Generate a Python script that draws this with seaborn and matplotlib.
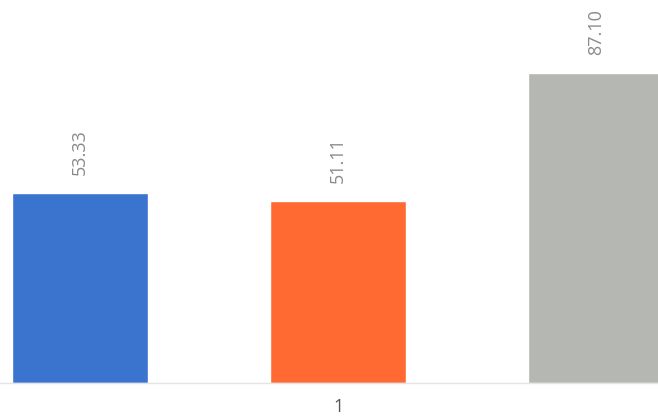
import seaborn as sns
import matplotlib.pyplot as plt
import pandas as pd

categories = ['1', '1', '1']
series = ['A', 'B', 'C']
values = [53.33, 51.11, 87.10]
colors = ['#3a74cf', '#ff6a32', '#b5b7b3']

df = pd.DataFrame({'cat': categories, 'series': series, 'value': values})

sns.set_style('white')
plt.rcParams['font.family'] = ['Open Sans', 'DejaVu Sans']

fig = plt.figure(figsize=(6.58, 4.2), dpi=100)
ax = fig.add_axes([0, 37 / 420, 1, 383 / 420])

sns.barplot(data=df, x='cat', y='value', hue='series', palette=colors,
            width=0.8, gap=0.473, legend=False, ax=ax, saturation=1)

# value labels, rotated like the original
for cont in ax.containers:
    ax.bar_label(cont, fmt='%.2f', rotation=90, padding=13,
                 color='#8a8a8a', fontsize=13)

ax.set_xlim(-0.3494, 0.3307)
ax.set_ylim(0, 107.5)
ax.set_xlabel('')
ax.set_ylabel('')
ax.set_yticks([])
ax.tick_params(axis='x', length=0, pad=11, labelsize=13, labelcolor='#555555')
for s in ['top', 'left', 'right']:
    ax.spines[s].set_visible(False)
ax.spines['bottom'].set_color('#e4e4e4')
ax.spines['bottom'].set_linewidth(1)

fig.savefig('out.png', dpi=100)
